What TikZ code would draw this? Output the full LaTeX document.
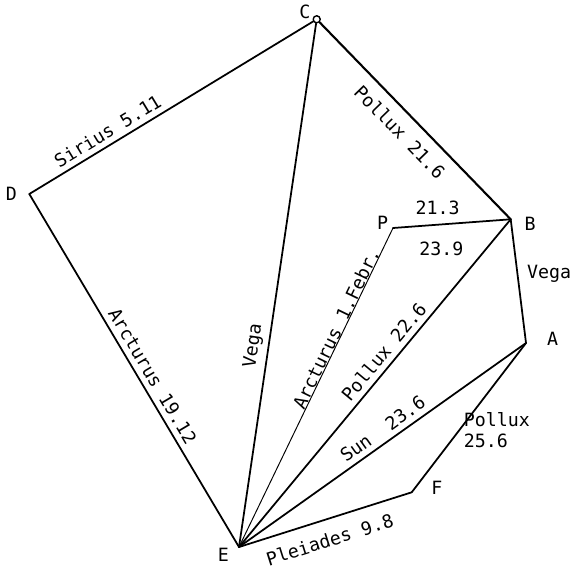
\documentclass[tikz,border=0pt]{standalone}
\usepackage{fontspec}
\newfontfamily\chartmono{DejaVu Sans Mono}
\usetikzlibrary{arrows.meta}
\newcommand{\chartfont}{\fontsize{10.4}{12}\selectfont\chartmono}
\tikzset{
  rim/.style={line width=1pt},
  starname/.style={font=\chartfont,inner sep=3pt},
  ptname/.style={font=\chartfont,inner sep=0pt}
}

\begin{document}
\begin{tikzpicture}[line cap=round,line join=round]
\useasboundingbox (0,0) rectangle (11.5,11.36);
% Corner points of the star chart.
\node[draw,circle,line width=.8pt,inner sep=0pt,minimum size=4pt] (C) at (6.334,10.974) {};
\coordinate (D) at (0.586,7.48);
\coordinate (B) at (10.214,6.974);
\coordinate (P) at (7.86,6.80);
\coordinate (A) at (10.52,4.50);
\coordinate (F) at (8.234,1.514);
\coordinate (E) at (4.78,0.42);
% Point letters.
\node[ptname] (Cname) at ([shift={(147:.28)}]C.center) {C};
\node[ptname] (Dname) at ([shift={(180:.36)}]D) {D};
\node[ptname] (Bname) at ([shift={(-14:.40)}]B) {B};
\node[ptname] (Pname) at ([shift={(155:.23)}]P) {P};
\node[ptname] (Aname) at ([shift={(8.5:.54)}]A) {A};
\node[ptname] (Fname) at ([shift={(9.6:.51)}]F) {F};
\node[ptname] (Ename) at ([shift={(-153:.35)}]E) {E};
% Outer rim and the fan from E.
\draw[rim] (D) -- node[starname,sloped,above,pos=.30] {Sirius 5.11} (C);
\draw[rim,line width=1.2pt] (C) -- node[starname,sloped,below,pos=.49,inner sep=6pt] {Pollux 21.6} (B);
\draw[rim] (D) -- node[starname,sloped,above,pos=.535] {Arcturus 19.12} (E);
\draw[rim] (E) -- node[starname,sloped,above,pos=.38] {Vega} (C);
\draw[rim,line width=.55pt] (E) -- node[starname,sloped,above,pos=.675,inner sep=0pt] {Arcturus 1.Febr.} (P);
\draw[rim] (P) -- node[starname,above,pos=.38,yshift=2.4pt] {21.3}
 node[starname,below,pos=.41,yshift=-6.2pt] {23.9} (B);
\draw[rim] (E) -- node[starname,sloped,above,pos=.57] {Pollux 22.6} (B);
\draw[rim] (B) -- node[starname,right,pos=.44,inner sep=5pt] {Vega} (A);
\draw[rim] (E) -- node[starname,sloped,above,pos=.527] {Sun\ \ 23.6} (A);
\draw[rim] (A) -- node[starname,right,pos=.583,inner sep=2pt,align=left] {Pollux\\25.6} (F);
\draw[rim] (E) -- node[starname,sloped,below,pos=.49,inner sep=7pt] {Pleiades 9.8} (F);
\end{tikzpicture}
\end{document}
